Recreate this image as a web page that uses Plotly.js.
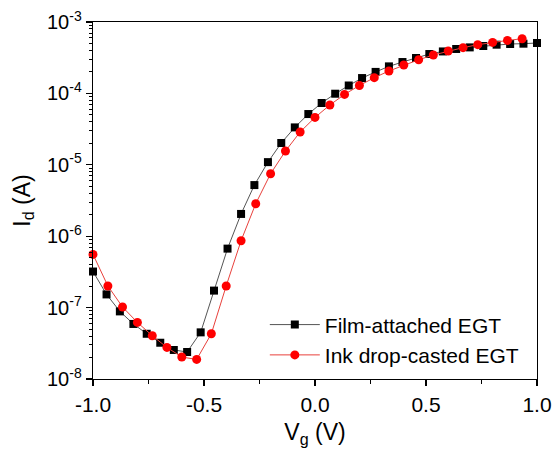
<!DOCTYPE html>
<html>
<head>
<meta charset="utf-8">
<script src="https://cdn.plot.ly/plotly-3.0.1.min.js"></script>
<style>html,body{margin:0;padding:0;background:#fff;}#chart{width:552px;height:452px;}</style>
</head>
<body>
<div id="chart"></div>
<script>
// Film-attached EGT (black squares)
var filmVg = [-1.000, -0.939, -0.879, -0.818, -0.758, -0.697, -0.636, -0.576, -0.515, -0.455,
  -0.394, -0.333, -0.273, -0.212, -0.152, -0.091, -0.030, 0.030, 0.091, 0.152,
  0.212, 0.273, 0.333, 0.394, 0.455, 0.515, 0.576, 0.636, 0.697, 0.758,
  0.818, 0.879, 0.939, 1.000];
var filmId = [3.2e-7, 1.53e-7, 8.85e-8, 5.9e-8, 4.3e-8, 3.22e-8, 2.55e-8, 2.39e-8, 4.5e-8, 1.73e-7,
  6.7e-7, 2.05e-6, 5.2e-6, 1.09e-5, 2.02e-5, 3.34e-5, 5.14e-5, 7.34e-5, 9.9e-5, 1.29e-4,
  1.64e-4, 2.0e-4, 2.39e-4, 2.75e-4, 3.13e-4, 3.56e-4, 3.87e-4, 4.19e-4, 4.41e-4, 4.61e-4,
  4.81e-4, 4.92e-4, 4.97e-4, 5.08e-4];
// Ink drop-casted EGT (red circles)
var inkVg = [-1.000, -0.933, -0.867, -0.800, -0.733, -0.667, -0.600, -0.533, -0.467, -0.400,
  -0.333, -0.267, -0.200, -0.133, -0.067, 0.000, 0.067, 0.133, 0.200, 0.267,
  0.333, 0.400, 0.467, 0.533, 0.600, 0.667, 0.733, 0.800, 0.867, 0.933];
var inkId = [5.56e-7, 2.01e-7, 1.02e-7, 6.2e-8, 4.04e-8, 2.77e-8, 2.03e-8, 1.88e-8, 4.3e-8, 2.01e-7,
  8.65e-7, 2.85e-6, 7.5e-6, 1.56e-5, 2.88e-5, 4.61e-5, 6.88e-5, 9.68e-5, 1.29e-4, 1.66e-4,
  2.06e-4, 2.5e-4, 2.96e-4, 3.45e-4, 3.93e-4, 4.37e-4, 4.81e-4, 5.18e-4, 5.52e-4, 5.83e-4];
var seriesNames = ["Film-attached EGT", "Ink drop-casted EGT"];
var yTickVals = [1e-8, 1e-7, 1e-6, 1e-5, 1e-4, 1e-3];
var yTickText = ["10<sup>-8</sup>", "10<sup>-7</sup>", "10<sup>-6</sup>", "10<sup>-5</sup>", "10<sup>-4</sup>", "10<sup>-3</sup>"];
var xTickVals = [-1.0, -0.5, 0.0, 0.5, 1.0];
var xTickText = ["-1.0", "-0.5", "0.0", "0.5", "1.0"];

var FONT = "Liberation Sans, Arial, sans-serif";
var traces = [
  {x: filmVg, y: filmId, name: seriesNames[0], type: "scatter", mode: "lines+markers",
   line: {color: "#555555", width: 1}, marker: {symbol: "square", size: 8, color: "#000000"}, cliponaxis: false},
  {x: inkVg, y: inkId, name: seriesNames[1], type: "scatter", mode: "lines+markers",
   line: {color: "#e8413c", width: 1}, marker: {symbol: "circle", size: 9, color: "#ff0000"}, cliponaxis: false}
];
var layout = {
  width: 552, height: 452,
  margin: {l: 93, r: 15, t: 22, b: 73},
  paper_bgcolor: "#ffffff", plot_bgcolor: "#ffffff",
  font: {family: FONT, size: 20, color: "#000000"},
  showlegend: true,
  legend: {x: 0.387, y: 0.01, xanchor: "left", yanchor: "bottom", bgcolor: "rgba(0,0,0,0)",
    itemwidth: 50, font: {family: FONT, size: 21, color: "#000"}, tracegroupgap: 0},
  xaxis: {
    range: [-1, 1], tickvals: xTickVals, ticktext: xTickText,
    ticks: "outside", ticklen: 6, tickwidth: 1.2, tickcolor: "#000",
    minor: {dtick: 0.25, tick0: -1, ticks: "outside", ticklen: 4, tickwidth: 1.2, tickcolor: "#000"},
    showline: true, linecolor: "#000", linewidth: 1.3, mirror: true,
    showgrid: false, zeroline: false,
    tickfont: {family: FONT, size: 21},
    title: {text: "V<sub>g</sub> (V)", font: {family: FONT, size: 23}, standoff: 9}
  },
  yaxis: {
    type: "log", range: [-8, -3], tickvals: yTickVals, ticktext: yTickText,
    ticks: "outside", ticklen: 6, tickwidth: 1.2, tickcolor: "#000",
    minor: {dtick: "D1", ticks: "outside", ticklen: 3, tickwidth: 1, tickcolor: "#000"},
    showline: true, linecolor: "#000", linewidth: 1.3, mirror: true,
    showgrid: false, zeroline: false,
    tickfont: {family: FONT, size: 20},
    title: {text: "I<sub>d</sub> (A)", font: {family: FONT, size: 23}, standoff: 10}
  }
};
Plotly.newPlot("chart", traces, layout, {displayModeBar: false, staticPlot: true});
</script>
</body>
</html>
